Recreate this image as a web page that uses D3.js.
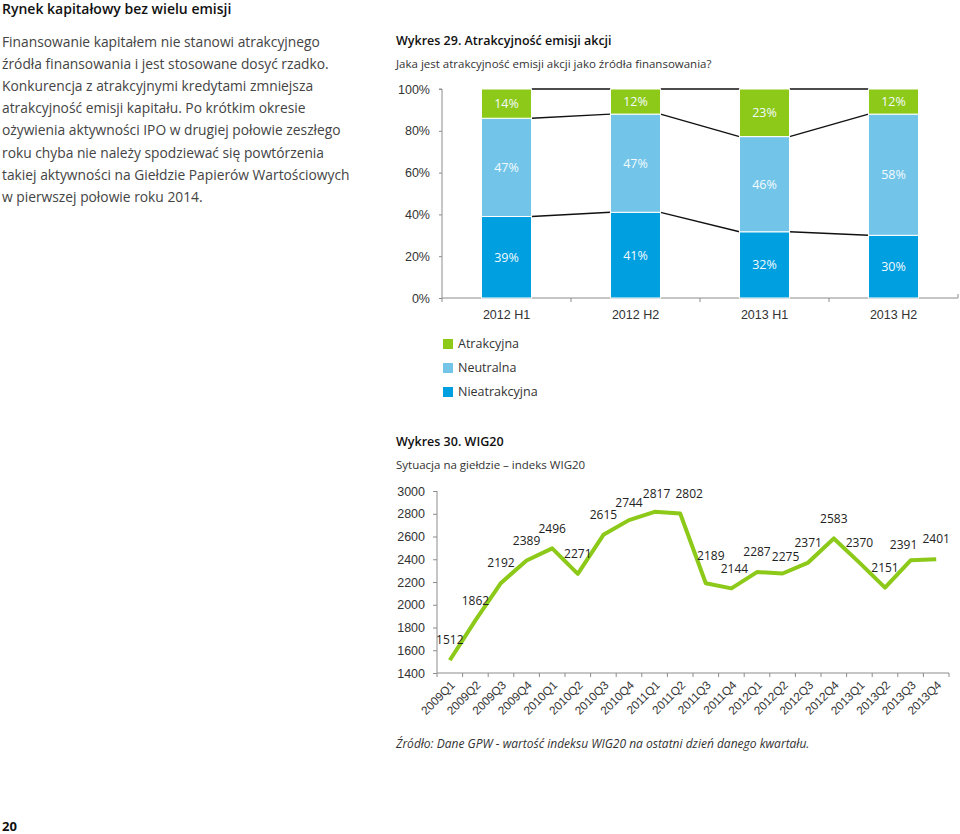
<!DOCTYPE html>
<html lang="pl">
<head>
    <meta charset="UTF-8">
    <title>Rynek kapitałowy bez wielu emisji</title>
    <style>
        body {
            margin: 0;
            padding: 0;
            background-color: #fff;
            font-family: "Open Sans", "Noto Sans", Arial, sans-serif;
        }
        svg text { fill: #333; }
        .axis path, .axis line { stroke: #8c8c8c; }
        .axis text { font-size: 12.5px; fill: #333; }
    </style>
    <script src="https://d3js.org/d3.v7.min.js"></script>
</head>
<body>
<div id="page"></div>
<script>
    // Wykres 29 - atrakcyjnosc emisji akcji
    const periods = ["2012 H1", "2012 H2", "2013 H1", "2013 H2"];
    const nieatrakcyjna = [39, 41, 32, 30];
    const neutralna = [47, 47, 46, 58];
    const atrakcyjna = [14, 12, 23, 12];
    const seriesNames = ["Nieatrakcyjna", "Neutralna", "Atrakcyjna"];
    const pctTicks = [0, 0.2, 0.4, 0.6, 0.8, 1];

    // Wykres 30 - WIG20
    const quarters = ["2009Q1", "2009Q2", "2009Q3", "2009Q4", "2010Q1", "2010Q2", "2010Q3", "2010Q4",
        "2011Q1", "2011Q2", "2011Q3", "2011Q4", "2012Q1", "2012Q2", "2012Q3", "2012Q4",
        "2013Q1", "2013Q2", "2013Q3", "2013Q4"];
    const wig20 = [1512, 1862, 2192, 2389, 2496, 2271, 2615, 2744, 2817, 2802, 2189, 2144,
        2287, 2275, 2371, 2583, 2370, 2151, 2391, 2401];
    const wigTicks = [1400, 1600, 1800, 2000, 2200, 2400, 2600, 2800, 3000];

    const paragraph = [
        "Finansowanie kapitałem nie stanowi atrakcyjnego",
        "źródła finansowania i jest stosowane dosyć rzadko.",
        "Konkurencja z atrakcyjnymi kredytami zmniejsza",
        "atrakcyjność emisji kapitału. Po krótkim okresie",
        "ożywienia aktywności IPO w drugiej połowie zeszłego",
        "roku chyba nie należy spodziewać się powtórzenia",
        "takiej aktywności na Giełdzie Papierów Wartościowych",
        "w pierwszej połowie roku 2014."
    ];

    const colors = {
        "Nieatrakcyjna": "#009fdf",
        "Neutralna": "#72c5e8",
        "Atrakcyjna": "#8cc919"
    };
    const lineGreen = "#8cc919";

    const svg = d3.select("#page").append("svg")
        .attr("width", 960)
        .attr("height", 834);

    // ---- left column text ----
    svg.append("text")
        .attr("x", 2).attr("y", 14)
        .style("font-size", "14px").style("font-weight", "600").style("fill", "#111")
        .text("Rynek kapitałowy bez wielu emisji");

    svg.append("g").selectAll("text")
        .data(paragraph)
        .enter().append("text")
        .attr("x", 2)
        .attr("y", (d, i) => 47 + i * 22.1)
        .style("font-size", "13.8px")
        .style("fill", "#444")
        .text(d => d);

    // ---- chart 29 ----
    svg.append("text").attr("x", 396).attr("y", 45)
        .style("font-size", "12.5px").style("font-weight", "600").style("fill", "#111")
        .text("Wykres 29. Atrakcyjność emisji akcji");
    svg.append("text").attr("x", 396).attr("y", 68)
        .style("font-size", "11.5px")
        .text("Jaka jest atrakcyjność emisji akcji jako źródła finansowania?");

    const rows = periods.map((p, i) => ({
        period: p,
        Nieatrakcyjna: nieatrakcyjna[i],
        Neutralna: neutralna[i],
        Atrakcyjna: atrakcyjna[i]
    }));
    const stacked = d3.stack().keys(seriesNames).offset(d3.stackOffsetExpand)(rows);

    const x29 = d3.scaleBand().domain(periods).range([442, 958]).paddingInner(0.612).paddingOuter(0.306);
    const y29 = d3.scaleLinear().domain([0, 1]).range([298, 89]);

    const yAxis29 = svg.append("g").attr("class", "axis")
        .attr("transform", "translate(442,0)")
        .call(d3.axisLeft(y29).tickValues(pctTicks).tickSize(3).tickPadding(9).tickFormat(d3.format(".0%")));
    yAxis29.select(".domain").attr("d", `M-3,${y29(1)}H0V${y29(0)}`);

    const xAxis29 = svg.append("g").attr("class", "axis")
        .attr("transform", "translate(0,298)")
        .call(d3.axisBottom(x29).tickSize(0).tickPadding(12));
    xAxis29.select(".domain").attr("d", `M442,0H958`);
    xAxis29.selectAll(".bound")
        .data(d3.range(periods.length + 1))
        .enter().append("line")
        .attr("class", "bound")
        .attr("x1", i => 442 + i * x29.step())
        .attr("x2", i => 442 + i * x29.step())
        .attr("y1", 0)
        .attr("y2", i => i === periods.length ? -4 : 4)
        .attr("stroke", "#8c8c8c");

    // connecting lines between bars
    stacked.forEach(layer => {
        for (let i = 0; i < periods.length - 1; i++) {
            svg.append("line")
                .attr("x1", x29(periods[i]) + x29.bandwidth())
                .attr("x2", x29(periods[i + 1]))
                .attr("y1", y29(layer[i][1]))
                .attr("y2", y29(layer[i + 1][1]))
                .attr("stroke", "#111")
                .attr("stroke-width", 1.4);
        }
    });

    const layers = svg.append("g").selectAll("g")
        .data(stacked)
        .enter().append("g")
        .attr("fill", d => colors[d.key]);

    layers.selectAll("rect")
        .data(d => d)
        .enter().append("rect")
        .attr("x", d => x29(d.data.period))
        .attr("y", d => y29(d[1]))
        .attr("width", x29.bandwidth())
        .attr("height", d => y29(d[0]) - y29(d[1]))
        .attr("stroke", "#fff")
        .attr("stroke-width", 1);

    layers.each(function (layer) {
        d3.select(this).selectAll("text")
            .data(layer)
            .enter().append("text")
            .attr("x", d => x29(d.data.period) + x29.bandwidth() / 2)
            .attr("y", d => (y29(d[0]) + y29(d[1])) / 2)
            .attr("dy", "0.35em")
            .attr("text-anchor", "middle")
            .style("font-size", "12.5px")
            .style("fill", "#f4fbff")
            .text(d => d.data[layer.key] + "%");
    });

    // legend
    const legend = svg.append("g").selectAll("g")
        .data(seriesNames.slice().reverse())
        .enter().append("g")
        .attr("transform", (d, i) => `translate(443,${339 + i * 24})`);
    legend.append("rect").attr("width", 10).attr("height", 10).attr("fill", d => colors[d]);
    legend.append("text").attr("x", 15).attr("y", 5).attr("dy", "0.35em")
        .style("font-size", "12.5px").text(d => d);

    // ---- chart 30 ----
    svg.append("text").attr("x", 396).attr("y", 446)
        .style("font-size", "12.5px").style("font-weight", "600").style("fill", "#111")
        .text("Wykres 30. WIG20");
    svg.append("text").attr("x", 396).attr("y", 469)
        .style("font-size", "11.5px")
        .text("Sytuacja na giełdzie – indeks WIG20");

    const x30 = d3.scaleBand().domain(quarters).range([437, 949]);
    const y30 = d3.scaleLinear().domain([1400, 3000]).range([673, 491]);

    svg.append("g").attr("class", "axis")
        .attr("transform", "translate(437,0)")
        .call(d3.axisLeft(y30).tickValues(wigTicks).tickSize(4).tickPadding(8)
            .tickSizeOuter(0).tickFormat(d3.format("d")))
        .select(".domain").attr("d", `M0,${y30(3000)}V${y30(1400)}`);

    const xAxis30 = svg.append("g").attr("class", "axis")
        .attr("transform", "translate(0,673)")
        .call(d3.axisBottom(x30).tickSize(0).tickPadding(0));
    xAxis30.select(".domain").attr("d", "M437,0H949");
    xAxis30.selectAll(".tick line").remove();
    xAxis30.selectAll(".tick text")
        .attr("text-anchor", "end")
        .attr("transform", "translate(3,10) rotate(-45)")
        .attr("dy", "0.35em")
        .style("font-size", "11.8px");
    xAxis30.selectAll(".bound")
        .data(d3.range(quarters.length + 1))
        .enter().append("line")
        .attr("class", "bound")
        .attr("x1", i => 437 + i * x30.step())
        .attr("x2", i => 437 + i * x30.step())
        .attr("y1", 0).attr("y2", 4)
        .attr("stroke", "#8c8c8c");

    const cx = (d, i) => x30(quarters[i]) + x30.bandwidth() / 2;
    const line = d3.line().x(cx).y(d => y30(d));

    svg.append("path")
        .datum(wig20)
        .attr("d", line)
        .attr("fill", "none")
        .attr("stroke", lineGreen)
        .attr("stroke-width", 4)
        .attr("stroke-linejoin", "round");

    // small nudges so the value labels sit like in the source
    const nudge = { 7: [0, 3], 8: [2, 2], 9: [9, 0], 10: [5, -7], 11: [3, 0], 13: [3, 3], 18: [-7, 5] };
    svg.append("g").selectAll("text")
        .data(wig20)
        .enter().append("text")
        .attr("x", (d, i) => cx(d, i) + (nudge[i] ? nudge[i][0] : 0))
        .attr("y", (d, i) => y30(d) - 20 + (nudge[i] ? nudge[i][1] : 0))
        .attr("dy", "0.35em")
        .attr("text-anchor", "middle")
        .style("font-size", "12px")
        .style("fill", "#222")
        .text(d => d);

    svg.append("text").attr("x", 396).attr("y", 748)
        .style("font-size", "12px").style("font-style", "italic")
        .text("Źródło: Dane GPW - wartość indeksu WIG20 na ostatni dzień danego kwartału.");

    svg.append("text").attr("x", 2).attr("y", 834)
        .attr("dy", "-0.2em")
        .style("font-size", "13px").style("font-weight", "bold").style("fill", "#111")
        .text("20");
</script>
</body>
</html>
